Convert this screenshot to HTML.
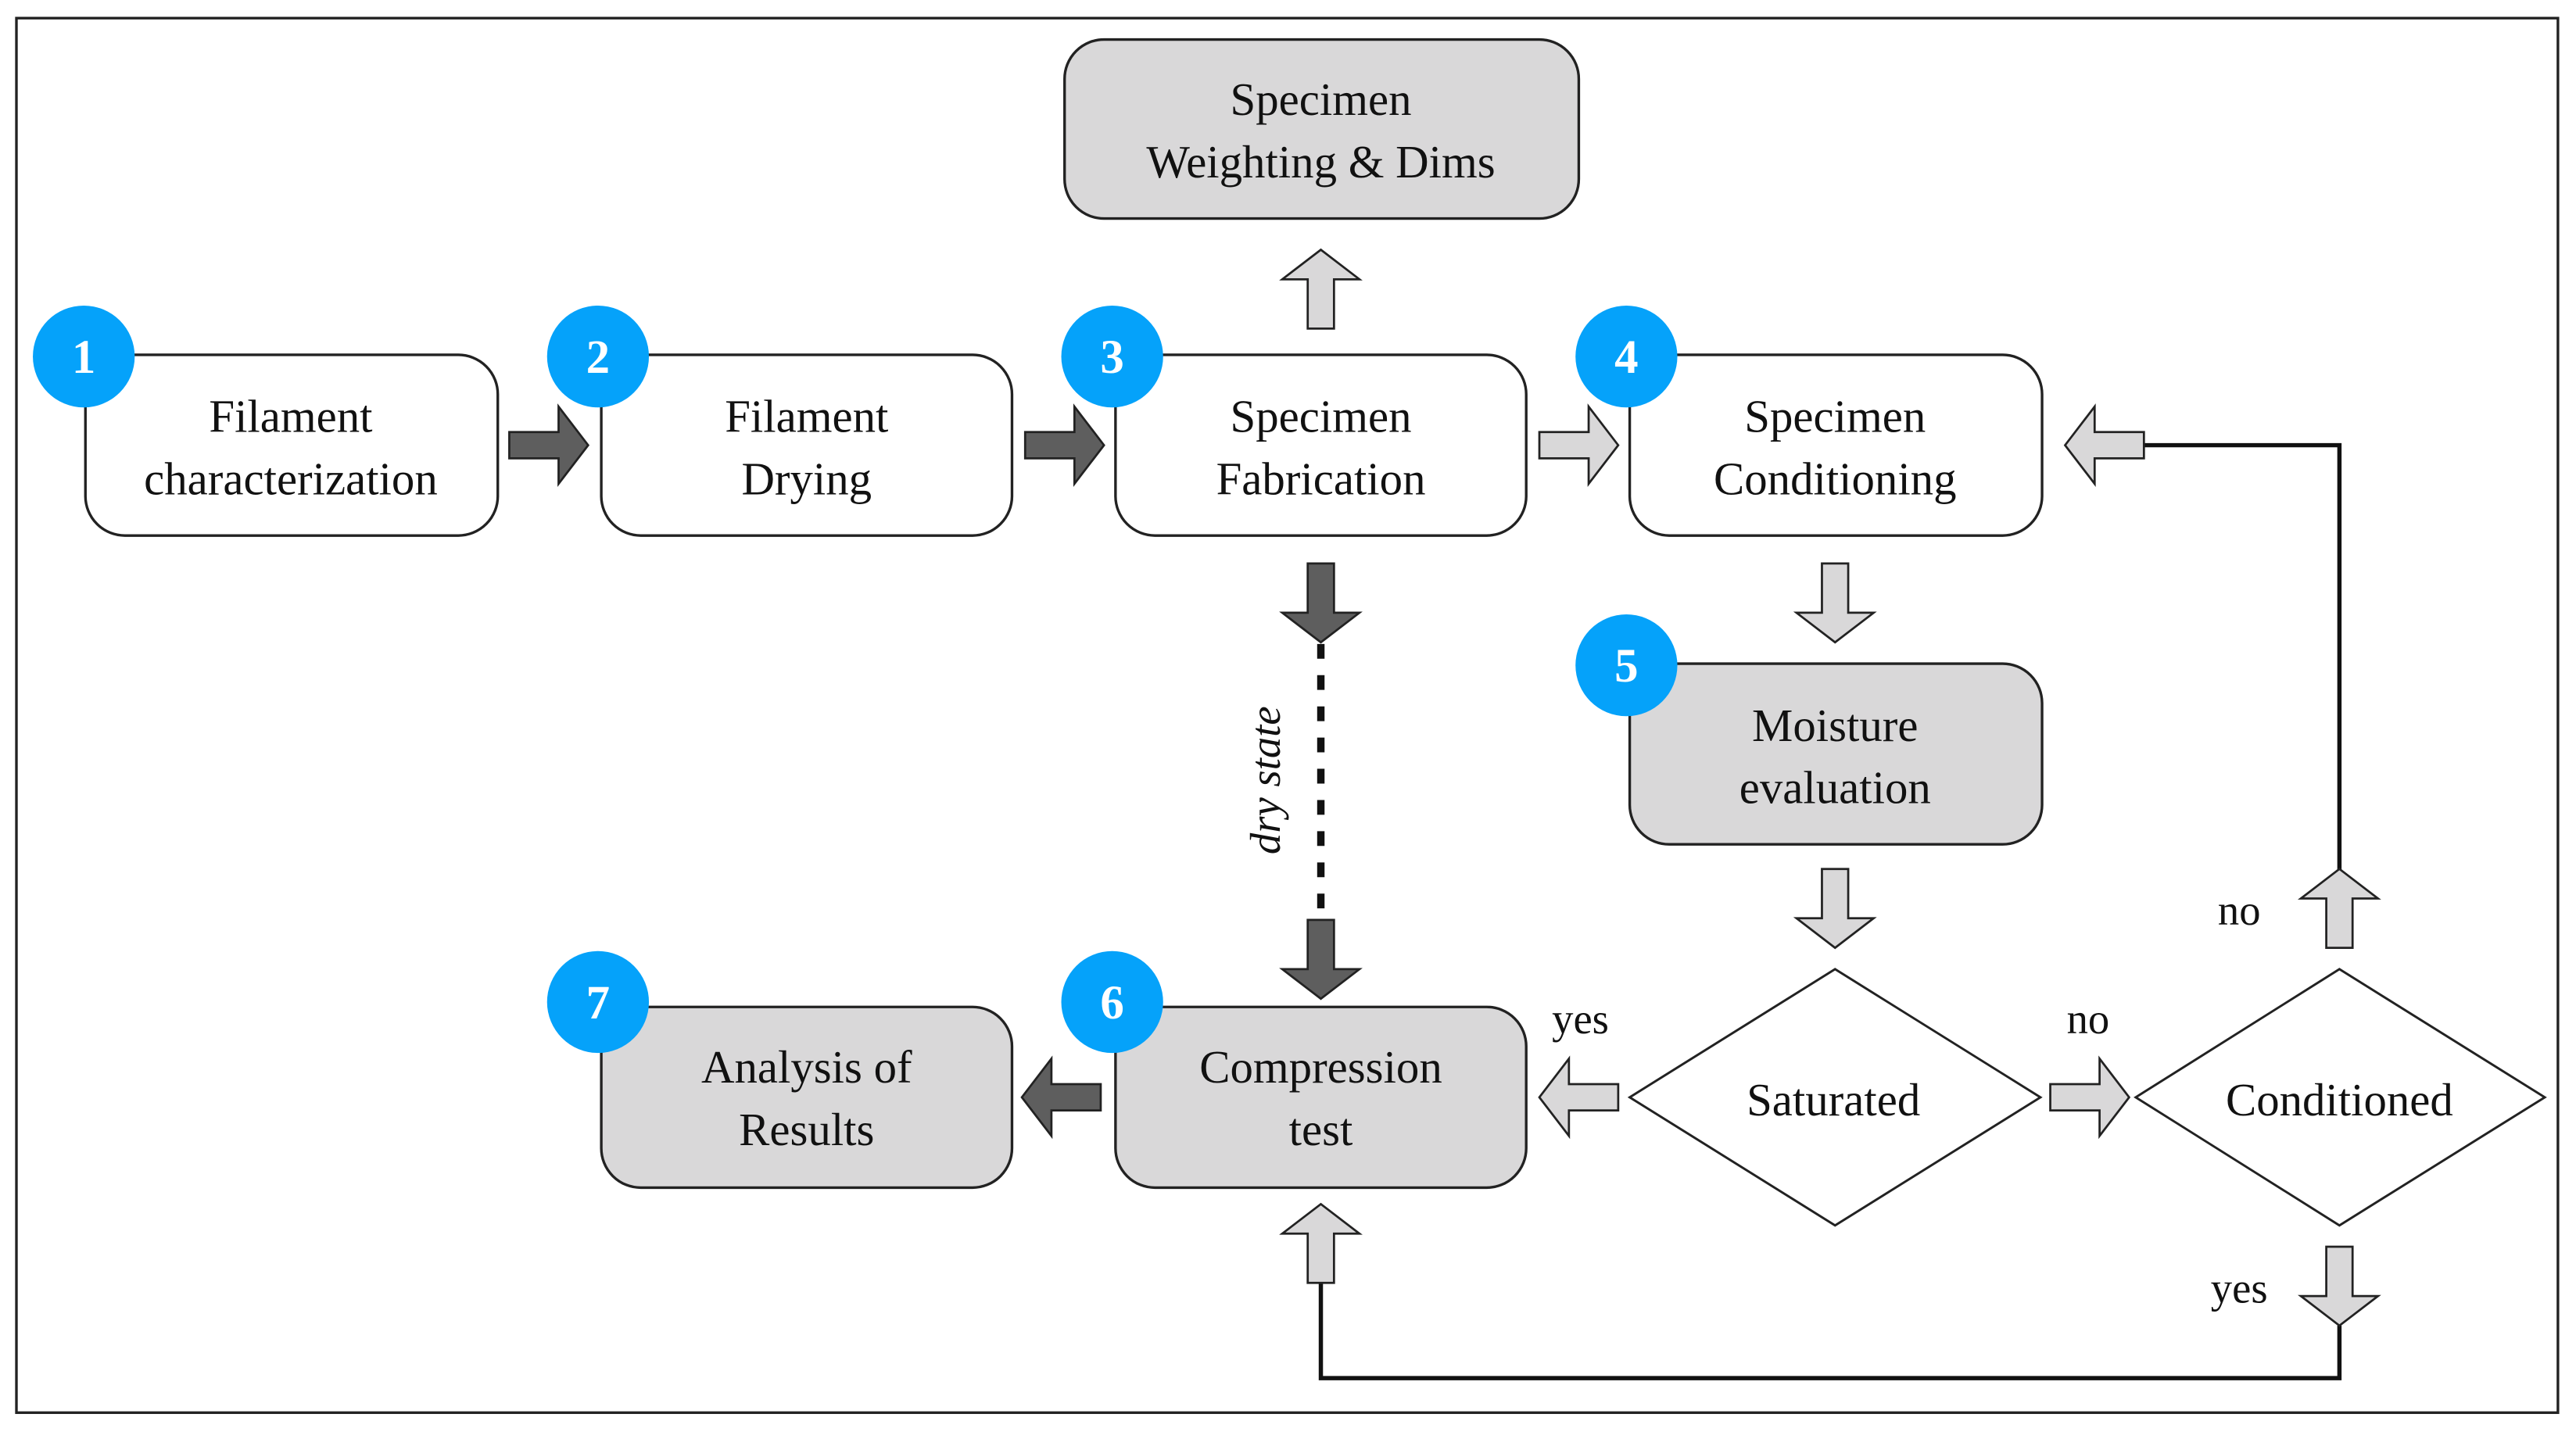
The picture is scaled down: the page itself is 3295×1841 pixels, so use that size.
<!DOCTYPE html>
<html><head><meta charset="utf-8"><style>
html,body{margin:0;padding:0;background:#fff;}
svg{display:block;}
text{font-family:"Liberation Serif",serif;fill:#111;}
.t{font-size:28px;text-anchor:middle;}
.n{font-size:29px;font-weight:bold;fill:#fff;text-anchor:middle;}
.l{font-size:26px;text-anchor:middle;}
</style></head><body>
<svg width="3295" height="1841" viewBox="0 0 1568 876" xmlns="http://www.w3.org/2000/svg">
<defs>
<path id="ar" d="M-24,-8 H6 V-23.5 L24,0 L6,23.5 V8 H-24 Z" stroke="#222" stroke-width="1.3" stroke-linejoin="miter"/>
</defs>
<rect x="10" y="11" width="1547" height="849" fill="#fff" stroke="#222" stroke-width="1.6"/>

<!-- connector lines -->
<polyline points="1305,271 1424,271 1424,530" fill="none" stroke="#111" stroke-width="2.6"/>
<polyline points="1424,807 1424,839 804,839 804,781" fill="none" stroke="#111" stroke-width="2.6"/>
<line x1="804" y1="392" x2="804" y2="560" stroke="#111" stroke-width="4.5" stroke-dasharray="9,10"/>

<!-- boxes -->
<rect x="648" y="24" width="313" height="109" rx="24" fill="#d9d8d9" stroke="#222" stroke-width="1.6"/>
<rect x="52" y="216" width="251" height="110" rx="24" fill="#fff" stroke="#222" stroke-width="1.6"/>
<rect x="366" y="216" width="250" height="110" rx="24" fill="#fff" stroke="#222" stroke-width="1.6"/>
<rect x="679" y="216" width="250" height="110" rx="24" fill="#fff" stroke="#222" stroke-width="1.6"/>
<rect x="992" y="216" width="251" height="110" rx="24" fill="#fff" stroke="#222" stroke-width="1.6"/>
<rect x="992" y="404" width="251" height="110" rx="24" fill="#d9d8d9" stroke="#222" stroke-width="1.6"/>
<rect x="679" y="613" width="250" height="110" rx="24" fill="#d9d8d9" stroke="#222" stroke-width="1.6"/>
<rect x="366" y="613" width="250" height="110" rx="24" fill="#d9d8d9" stroke="#222" stroke-width="1.6"/>

<!-- diamonds -->
<polygon points="1117,590 1242,668 1117,746 992,668" fill="#fff" stroke="#222" stroke-width="1.4"/>
<polygon points="1424,590 1549,668 1424,746 1300,668" fill="#fff" stroke="#222" stroke-width="1.4"/>

<!-- arrows -->
<use href="#ar" transform="translate(334,271)" fill="#5e5e5e"/>
<use href="#ar" transform="translate(648,271)" fill="#5e5e5e"/>
<use href="#ar" transform="translate(961,271)" fill="#d9d8d9"/>
<use href="#ar" transform="translate(804,176) rotate(-90)" fill="#d9d8d9"/>
<use href="#ar" transform="translate(804,367) rotate(90)" fill="#5e5e5e"/>
<use href="#ar" transform="translate(804,584) rotate(90)" fill="#5e5e5e"/>
<use href="#ar" transform="translate(1117,367) rotate(90)" fill="#d9d8d9"/>
<use href="#ar" transform="translate(1117,553) rotate(90)" fill="#d9d8d9"/>
<use href="#ar" transform="translate(961,668) rotate(180)" fill="#d9d8d9"/>
<use href="#ar" transform="translate(1272,668)" fill="#d9d8d9"/>
<use href="#ar" transform="translate(646,668) rotate(180)" fill="#5e5e5e"/>
<use href="#ar" transform="translate(1281,271) rotate(180)" fill="#d9d8d9"/>
<use href="#ar" transform="translate(1424,553) rotate(-90)" fill="#d9d8d9"/>
<use href="#ar" transform="translate(1424,783) rotate(90)" fill="#d9d8d9"/>
<use href="#ar" transform="translate(804,757) rotate(-90)" fill="#d9d8d9"/>

<!-- badges -->
<g fill="#05a2fa">
<circle cx="51" cy="217" r="31"/><circle cx="364" cy="217" r="31"/><circle cx="677" cy="217" r="31"/>
<circle cx="990" cy="217" r="31"/><circle cx="990" cy="405" r="31"/><circle cx="677" cy="610" r="31"/><circle cx="364" cy="610" r="31"/>
</g>
<text class="n" x="51" y="227">1</text><text class="n" x="364" y="227">2</text><text class="n" x="677" y="227">3</text>
<text class="n" x="990" y="227">4</text><text class="n" x="990" y="415">5</text><text class="n" x="677" y="620">6</text><text class="n" x="364" y="620">7</text>

<!-- texts -->
<text class="t" x="804" y="70">Specimen</text><text class="t" x="804" y="108">Weighting &amp; Dims</text>
<text class="t" x="177" y="263">Filament</text><text class="t" x="177" y="301">characterization</text>
<text class="t" x="491" y="263">Filament</text><text class="t" x="491" y="301">Drying</text>
<text class="t" x="804" y="263">Specimen</text><text class="t" x="804" y="301">Fabrication</text>
<text class="t" x="1117" y="263">Specimen</text><text class="t" x="1117" y="301">Conditioning</text>
<text class="t" x="1117" y="451">Moisture</text><text class="t" x="1117" y="489">evaluation</text>
<text class="t" x="804" y="659">Compression</text><text class="t" x="804" y="697">test</text>
<text class="t" x="491" y="659">Analysis of</text><text class="t" x="491" y="697">Results</text>
<text class="t" x="1116" y="679">Saturated</text>
<text class="t" x="1424" y="679">Conditioned</text>
<text class="l" x="962" y="629">yes</text>
<text class="l" x="1271" y="629">no</text>
<text class="l" x="1363" y="563">no</text>
<text class="l" x="1363" y="793">yes</text>
<text class="l" transform="translate(779,475) rotate(-90)" style="font-style:italic">dry state</text>
</svg>
</body></html>
